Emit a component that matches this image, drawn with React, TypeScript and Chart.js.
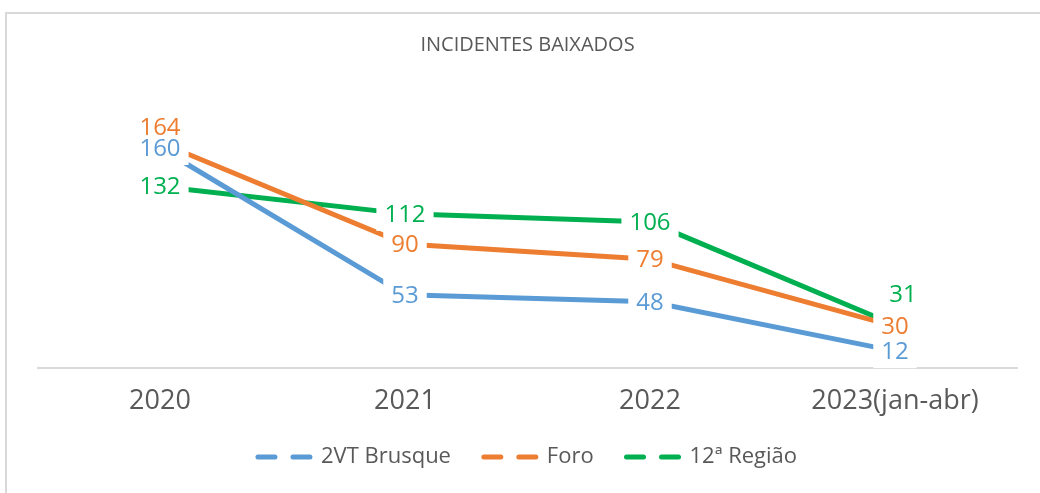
import React, { useEffect, useRef } from 'react';
import { Chart, registerables } from 'chart.js';

Chart.register(...registerables);

// ---- Data ----
const categories = ['2020', '2021', '2022', '2023(jan-abr)'];
const seriesNames = ['2VT Brusque', 'Foro', '12ª Região'];
const brusqueValues = [160, 53, 48, 12];
const foroValues = [164, 90, 79, 30];
const regiaoValues = [132, 112, 106, 31];
const chartTitle = 'INCIDENTES BAIXADOS';

// ---- Styles ----
const FONT = "'Open Sans', 'DejaVu Sans', sans-serif";
const COLORS = ['#5B9BD5', '#ED7D31', '#00B050'];
const TEXT_GRAY = '#595959';

// label offsets (px) relative to each point, per series
const labelOffsets = [
  [{ dx: 0, dy: 0 }, { dx: 0, dy: 0 }, { dx: 0, dy: 0 }, { dx: 0, dy: 0 }],
  [{ dx: 0, dy: -15 }, { dx: 0, dy: 0 }, { dx: 0, dy: 0 }, { dx: 0, dy: 0 }],
  [{ dx: 0, dy: 0 }, { dx: 0, dy: 0 }, { dx: 0, dy: 0 }, { dx: 8, dy: -31 }],
];

const frameBorder = {
  id: 'frameBorder',
  beforeDraw(chart: any) {
    const ctx = chart.ctx;
    ctx.save();
    ctx.fillStyle = '#ffffff';
    ctx.fillRect(0, 0, chart.width, chart.height);
    ctx.strokeStyle = '#D9D9D9';
    ctx.lineWidth = 2;
    ctx.strokeRect(6, 13, chart.width + 50, chart.height + 50);
    ctx.restore();
  },
};

const valueLabels = {
  id: 'valueLabels',
  afterDatasetsDraw(chart: any) {
    const ctx = chart.ctx;
    ctx.save();
    ctx.font = `24px ${FONT}`;
    ctx.textAlign = 'center';
    ctx.textBaseline = 'middle';
    const items: any[] = [];
    chart.data.datasets.forEach((ds: any, i: number) => {
      const meta = chart.getDatasetMeta(i);
      meta.data.forEach((pt: any, j: number) => {
        const off = labelOffsets[i][j];
        const text = String(ds.data[j]);
        const w = ctx.measureText(text).width;
        items.push({ x: pt.x + off.dx, y: pt.y + off.dy, text, w, color: ds.borderColor });
      });
    });
    ctx.fillStyle = '#ffffff';
    items.forEach((it) => {
      ctx.fillRect(it.x - it.w / 2 - 8, it.y - 17, it.w + 16, 34);
    });
    items.forEach((it) => {
      ctx.fillStyle = it.color;
      ctx.fillText(it.text, it.x, it.y + 1);
    });
    ctx.restore();
  },
};

export default function App() {
  const canvasRef = useRef<HTMLCanvasElement | null>(null);

  useEffect(() => {
    document.body.style.margin = '0';
    const canvas = canvasRef.current;
    if (!canvas) return;
    const seriesValues = [brusqueValues, foroValues, regiaoValues];
    const chart = new Chart(canvas, {
      type: 'line',
      data: {
        labels: categories,
        datasets: seriesNames.map((name, i) => ({
          label: name,
          data: seriesValues[i],
          borderColor: COLORS[i],
          backgroundColor: COLORS[i],
          borderWidth: 5,
          pointRadius: 0,
          pointHoverRadius: 0,
          tension: 0,
          fill: false,
        })),
      },
      options: {
        responsive: false,
        animation: false,
        devicePixelRatio: 1,
        layout: { padding: { top: 0, left: 37.5, right: 22.5, bottom: 15 } },
        scales: {
          x: {
            offset: true,
            grid: { display: false, drawTicks: false },
            border: { display: true, color: '#D9D9D9', width: 2 },
            ticks: {
              color: TEXT_GRAY,
              font: { family: FONT, size: 27 },
              padding: 18,
              maxRotation: 0,
              autoSkip: false,
            },
          },
          y: { display: false, min: 0, max: 175 },
        },
        plugins: {
          tooltip: { enabled: false },
          title: {
            display: true,
            text: chartTitle,
            color: TEXT_GRAY,
            font: { family: FONT, size: 20, weight: 'normal' },
            padding: { top: 33, bottom: 70.4 },
          },
          legend: {
            display: true,
            position: 'bottom',
            labels: {
              usePointStyle: true,
              pointStyle: 'line',
              pointStyleWidth: 52,
              padding: 10,
              color: TEXT_GRAY,
              font: { family: FONT, size: 22 },
              generateLabels: (c: any) => {
                const base = (Chart.defaults.plugins.legend.labels as any).generateLabels(c);
                return base.map((item: any, i: number) => ({
                  ...item,
                  text: i < base.length - 1 ? item.text + '    ' : item.text,
                  lineDash: [17, 18],
                  lineCap: 'round',
                  lineWidth: 5,
                  pointStyle: 'line',
                }));
              },
            },
          },
        },
      } as any,
      plugins: [frameBorder, valueLabels],
    });
    return () => chart.destroy();
  }, []);

  return (
    <div style={{ width: 1040, height: 493 }}>
      <canvas ref={canvasRef} width={1040} height={493} style={{ width: 1040, height: 493, display: 'block' }} />
    </div>
  );
}
